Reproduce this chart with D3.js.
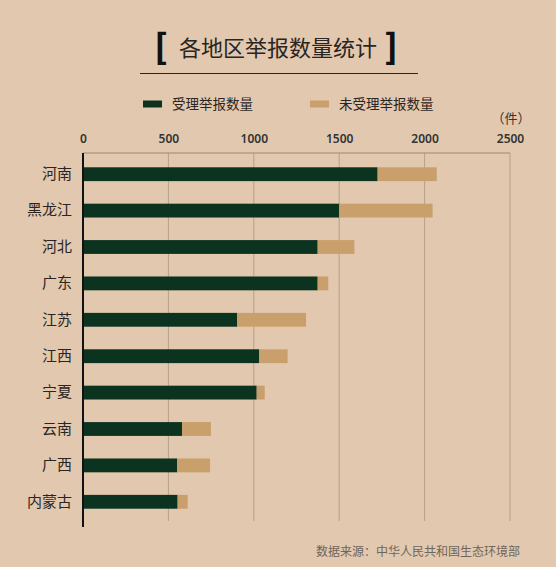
<!DOCTYPE html>
<html><head><meta charset="utf-8">
<script src="https://cdn.jsdelivr.net/npm/d3@7"></script>
<style>
html,body{margin:0;padding:0;background:#e2c8ae;}
svg{display:block;font-family:"Noto Sans CJK SC","Noto Sans",sans-serif;}
</style></head><body>
<script>
const regions = ["河南","黑龙江","河北","广东","江苏","江西","宁夏","云南","广西","内蒙古"];
const accepted = [1725,1500,1374,1374,903,1032,1017,580,552,554];
const notAccepted = [346,547,215,62,403,166,47,169,192,59];
const ticks = [0,500,1000,1500,2000,2500];
const seriesNames = ["受理举报数量","未受理举报数量"];
const colors = ["#0c3320","#c9a06c"];

const W=556,H=567;
const svg=d3.select("body").append("svg").attr("width",W).attr("height",H);
svg.append("rect").attr("width",W).attr("height",H).attr("fill","#e2c8ae");

// title
svg.append("text").attr("x",161).attr("y",59).attr("text-anchor","middle")
  .attr("font-size",34).attr("font-weight",900).attr("fill","#111").text("[");
svg.append("text").attr("x",278).attr("y",56).attr("text-anchor","middle")
  .attr("font-size",22).attr("fill","#2a2522").text("各地区举报数量统计");
svg.append("text").attr("x",391).attr("y",59).attr("text-anchor","middle")
  .attr("font-size",34).attr("font-weight",900).attr("fill","#111").text("]");
svg.append("line").attr("x1",140).attr("x2",418).attr("y1",73.5).attr("y2",73.5)
  .attr("stroke","#2a2522").attr("stroke-width",1.2);

// legend
const legX=[143,310];
seriesNames.forEach((n,i)=>{
  svg.append("rect").attr("x",legX[i]).attr("y",100.5).attr("width",19).attr("height",7).attr("fill",colors[i]);
  svg.append("text").attr("x",legX[i]+29).attr("y",109).attr("font-size",13.5).attr("fill","#2a2522").text(n);
});

// scales
const x=d3.scaleLinear().domain([0,2500]).range([83,510]);
const y=d3.scaleBand().domain(regions).range([156,520]).paddingInner(0.62).paddingOuter(0.31);

// grid
const plotTop=153,plotBottom=521;
svg.append("g").selectAll("line").data(ticks.slice(1)).join("line")
  .attr("x1",d=>x(d)).attr("x2",d=>x(d)).attr("y1",plotTop).attr("y2",plotBottom)
  .attr("stroke","#b5a08a").attr("stroke-width",1);
svg.append("line").attr("x1",x(0)).attr("x2",x(2500)).attr("y1",plotTop).attr("y2",plotTop)
  .attr("stroke","#9c8875").attr("stroke-width",1);

// axis labels
const axis=d3.axisTop(x).tickValues(ticks).tickSize(0).tickPadding(0).tickFormat(d3.format("d"));
const ag=svg.append("g").attr("transform",`translate(0,${plotTop-10})`).call(axis);
ag.select(".domain").remove();
ag.selectAll("text").attr("font-size",12).attr("font-weight",600).attr("fill","#333")
  .attr("font-family","'Noto Sans','Noto Sans CJK SC',sans-serif");
svg.append("text").attr("x",511).attr("y",123).attr("text-anchor","middle")
  .attr("font-size",13).attr("fill","#333").text("（件）");

// bars
const g=svg.append("g");
regions.forEach((r,i)=>{
  g.append("rect").attr("x",x(0)).attr("y",y(r)).attr("width",x(accepted[i])-x(0)).attr("height",y.bandwidth()).attr("fill",colors[0]);
  g.append("rect").attr("x",x(accepted[i])).attr("y",y(r)).attr("width",x(accepted[i]+notAccepted[i])-x(accepted[i])).attr("height",y.bandwidth()).attr("fill",colors[1]);
});

// zero axis
svg.append("line").attr("x1",x(0)).attr("x2",x(0)).attr("y1",plotTop).attr("y2",plotBottom+6)
  .attr("stroke","#111").attr("stroke-width",2);

// category labels
const yl=d3.axisLeft(y).tickSize(0).tickPadding(0);
const yg=svg.append("g").attr("transform",`translate(72,0)`).call(yl);
yg.select(".domain").remove();
yg.selectAll("text").attr("font-size",15).attr("fill","#2a2522")
  .attr("font-family","'Noto Sans CJK SC',sans-serif");

// footer
svg.append("text").attr("x",520).attr("y",556).attr("text-anchor","end")
  .attr("font-size",12).attr("fill","#6e655c").text("数据来源：中华人民共和国生态环境部");
</script>
</body></html>
